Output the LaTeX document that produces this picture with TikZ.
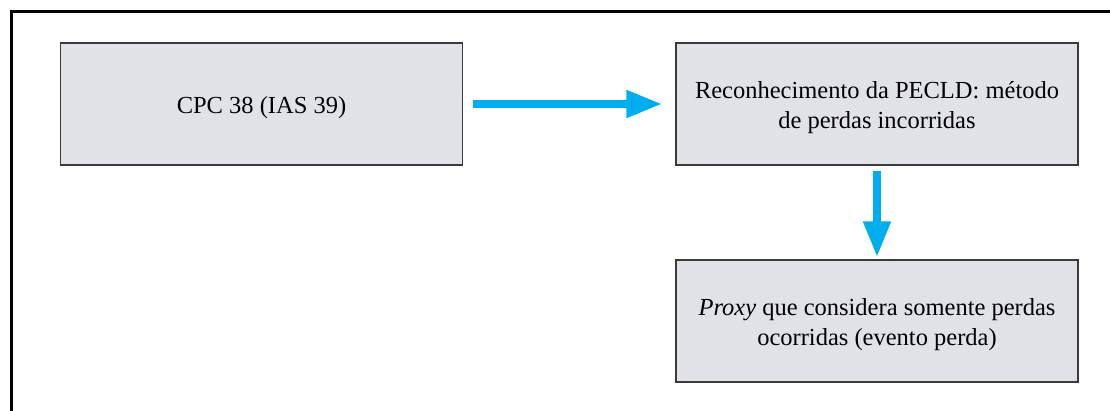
\documentclass[tikz,border=0pt]{standalone}
\usepackage{fontspec}
\setmainfont{Liberation Serif}
\usetikzlibrary{arrows.meta}
\definecolor{boxfill}{HTML}{E1E2E7}
\definecolor{boxline}{HTML}{3A3A3A}
\definecolor{arrowcyan}{HTML}{00AEEF}
\tikzset{
  stepbox/.style={draw=boxline, line width=1.5pt, fill=boxfill, minimum width=402pt, minimum height=122pt, inner sep=0pt},
  steptext/.style={yshift=-4pt, align=center, font=\fontsize{24.5}{30}\selectfont, inner sep=0pt},
  flow/.style={draw=arrowcyan, line width=8pt, -{Triangle[length=36pt,width=26pt]}}
}
\begin{document}
\begin{tikzpicture}[x=1pt,y=-1pt]
\useasboundingbox (0,0) rectangle (1110,410);
\draw[line width=3pt, line cap=rect] (11,410) -- (11,11) -- (1112,11);
\node[stepbox, label={[steptext]center:CPC 38 (IAS 39)}] (a) at (261.5,104) {};
\node[stepbox, label={[steptext]center:{Reconhecimento da PECLD: método\\de perdas incorridas}}] (b) at (877,104) {};
\node[stepbox, label={[steptext]center:{\textit{Proxy} que considera somente perdas\\ocorridas (evento perda)}}] (c) at (877,321) {};
\draw[flow] ([xshift=10pt]a.east) -- ([xshift=-13pt]b.west);
\draw[flow] ([yshift=-5pt]b.south) -- ([yshift=2pt]c.north);
\end{tikzpicture}
\end{document}
